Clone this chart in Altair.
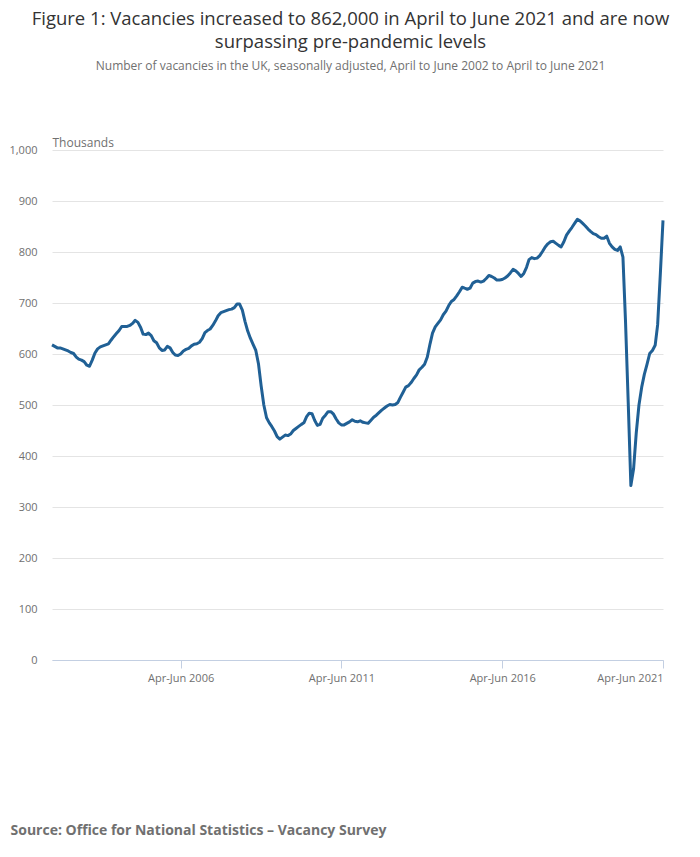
import altair as alt
import pandas as pd

# Vacancies (thousands), rolling quarters Apr-Jun 2002 ... Apr-Jun 2021
vacancies = [
    618, 615, 612, 612, 610, 608, 606, 603, 601, 594, 590, 588, 585, 578, 576, 588,
    602, 610, 614, 616, 618, 620, 627, 634, 640, 646, 654, 654, 654, 656, 660, 666,
    662, 652, 639, 638, 641, 636, 626, 622, 612, 607, 608, 615, 612, 603, 598, 597,
    600, 606, 609, 611, 616, 619, 620, 623, 630, 642, 646, 649, 656, 665, 675, 681,
    683, 685, 687, 688, 691, 698, 698, 686, 664, 645, 631, 619, 607, 581, 537, 500,
    475, 465, 458, 449, 438, 433, 437, 441, 440, 443, 450, 454, 458, 462, 465, 477,
    484, 483, 470, 460, 462, 474, 480, 487, 487, 482, 473, 465, 461, 461, 464, 467,
    471, 468, 467, 469, 466, 465, 464, 470, 476, 480, 485, 490, 494, 498, 501, 500,
    501, 505, 515, 525, 535, 538, 544, 552, 559, 569, 574, 580, 594, 620, 641, 653,
    660, 667, 677, 684, 695, 703, 707, 714, 722, 731, 729, 727, 729, 739, 742, 743,
    741, 743, 748, 754, 752, 749, 745, 745, 746, 749, 753, 759, 766, 763, 758, 752,
    758, 770, 785, 789, 787, 788, 793, 801, 810, 816, 820, 821, 817, 813, 810, 820,
    833, 841, 848, 856, 864, 861, 856, 851, 845, 840, 836, 834, 830, 827, 827, 831,
    817, 810, 805, 803, 810, 790, 665, 505, 342, 375, 445, 500, 535, 560, 580, 601,
    607, 617, 657, 758, 862,
]

# middle month of each rolling quarter (Apr-Jun 2002 -> May 2002)
months = pd.date_range("2002-05-01", periods=len(vacancies), freq="MS")

tick_years = [2006, 2011, 2016, 2021]
y_ticks = [0, 100, 200, 300, 400, 500, 600, 700, 800, 900, 1000]

df = pd.DataFrame({"month": months, "vacancies": vacancies})

FONT = "Open Sans"
GREY = "#707070"

tick_values = [alt.DateTime(year=y, month=5, date=1) for y in tick_years]

chart = (
    alt.Chart(df)
    .mark_line(color="#206095", strokeWidth=3, strokeJoin="round")
    .encode(
        x=alt.X(
            "month:T",
            scale=alt.Scale(domain=[alt.DateTime(year=2002, month=5, date=1),
                                    alt.DateTime(year=2021, month=5, date=1)]),
            axis=alt.Axis(
                values=tick_values,
                labelExpr="'Apr-Jun ' + timeFormat(datum.value, '%Y')",
                grid=False,
                domainColor="#c3cfe2",
                tickColor="#c3cfe2",
                tickSize=8,
                labelColor=GREY,
                labelFontSize=11,
                labelPadding=4,
                labelFont=FONT,
                title="Source: Office for National Statistics – Vacancy Survey",
                titleFont=FONT,
                titleFontSize=14,
                titleFontWeight="bold",
                titleColor=GREY,
                titleAnchor="start",
                titleAlign="left",
                titleBaseline="middle",
                titleX=-42,
                titleY=170,
            ),
        ),
        y=alt.Y(
            "vacancies:Q",
            scale=alt.Scale(domain=[0, 1000], nice=False),
            axis=alt.Axis(
                values=y_ticks,
                format=",d",
                domain=False,
                ticks=False,
                gridColor="#e4e4e4",
                labelColor=GREY,
                labelFontSize=11,
                labelPadding=15,
                labelFont=FONT,
                title="Thousands",
                titleFont=FONT,
                titleFontSize=12,
                titleFontWeight="normal",
                titleColor=GREY,
                titleAngle=0,
                titleAlign="left",
                titleBaseline="bottom",
                titleX=0,
                titleY=-1,
            ),
        ),
    )
    .properties(
        width=611,
        height=510,
        autosize="none",
        padding={"left": 44, "top": 142, "right": 29, "bottom": 180},
        title=alt.TitleParams(
            text=["Figure 1: Vacancies increased to 862,000 in April to June 2021 and are now",
                  "surpassing pre-pandemic levels"],
            subtitle="Number of vacancies in the UK, seasonally adjusted, April to June 2002 to April to June 2021",
            anchor="middle",
            dx=-7,
            font=FONT,
            fontSize=18.5,
            fontWeight="normal",
            color="#333333",
            lineHeight=23,
            subtitleFont=FONT,
            subtitleFontSize=12,
            subtitleColor=GREY,
            subtitlePadding=10,
            offset=64,
        ),
    )
    .configure_view(stroke=None)
)

chart.save("out.html", embed_options={"renderer": "svg", "actions": False})
